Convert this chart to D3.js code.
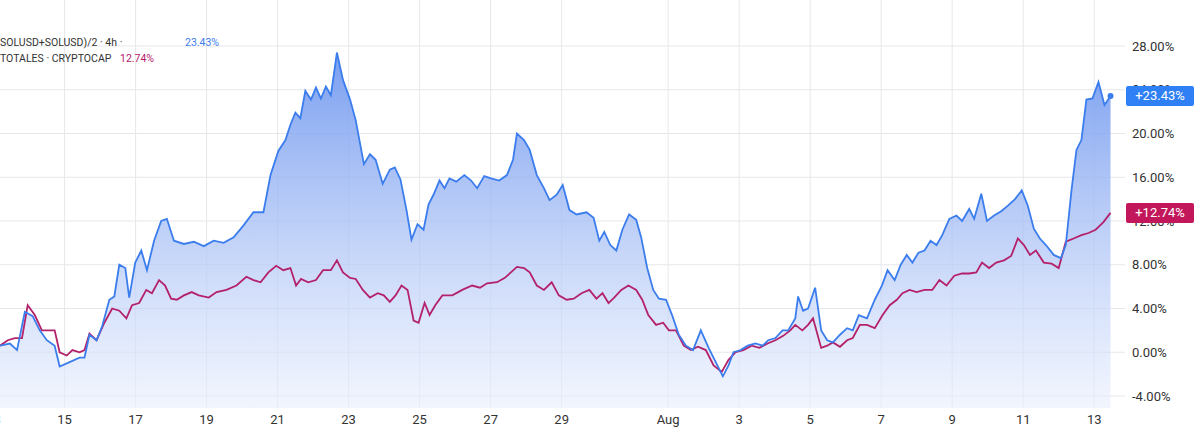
<!DOCTYPE html>
<html><head><meta charset="utf-8">
<script src="https://cdn.jsdelivr.net/npm/d3@7"></script>
<style>body{margin:0;background:#fff;font-family:Roboto,"Noto Sans",sans-serif}</style>
</head><body><svg id="c" width="1200" height="434"></svg>
<script>
// [July day (fractional, >31 = August), percent]
const solSeries = [[13.18,0.6],[13.46,0.8],[13.66,0.2],[13.88,3.7],[14.10,3.3],[14.30,2.0],[14.50,1.1],[14.72,0.6],[14.86,-1.3],[15.14,-0.9],[15.42,-0.5],[15.56,-0.5],[15.70,1.6],[15.90,1.1],[16.06,2.4],[16.26,4.8],[16.40,5.1],[16.54,8.0],[16.71,7.7],[16.82,5.0],[16.99,8.2],[17.16,9.3],[17.32,7.5],[17.52,10.2],[17.72,12.0],[17.88,12.2],[18.08,10.2],[18.36,9.9],[18.64,10.1],[18.92,9.7],[19.20,10.2],[19.48,10.0],[19.76,10.5],[20.04,11.6],[20.32,12.8],[20.60,12.8],[20.80,16.2],[21.02,18.4],[21.22,19.4],[21.36,20.8],[21.50,21.9],[21.64,21.4],[21.78,23.9],[21.94,23.1],[22.08,24.2],[22.22,23.2],[22.36,24.3],[22.50,23.5],[22.67,27.4],[22.84,24.9],[23.04,23.1],[23.20,21.2],[23.43,17.2],[23.60,18.1],[23.76,17.6],[23.96,15.4],[24.16,16.7],[24.30,16.9],[24.46,15.8],[24.63,13.0],[24.77,10.3],[24.94,11.7],[25.11,11.2],[25.25,13.5],[25.39,14.4],[25.56,15.7],[25.70,15.0],[25.84,15.9],[26.03,15.6],[26.26,16.2],[26.45,15.7],[26.62,15.0],[26.82,16.1],[27.01,15.9],[27.24,15.7],[27.46,16.2],[27.63,17.6],[27.74,20.0],[27.94,19.4],[28.10,18.5],[28.30,16.2],[28.50,15.0],[28.66,13.9],[28.86,14.4],[29.03,15.3],[29.22,13.0],[29.42,12.6],[29.70,12.8],[29.90,12.3],[30.06,10.2],[30.20,11.0],[30.37,9.8],[30.54,9.3],[30.71,11.2],[30.90,12.6],[31.10,12.1],[31.24,10.5],[31.41,7.7],[31.58,5.7],[31.74,4.9],[31.94,4.8],[32.11,3.4],[32.30,1.6],[32.50,0.6],[32.70,0.2],[32.92,2.0],[33.14,0.4],[33.34,-0.9],[33.54,-2.2],[33.70,-1.2],[33.84,0],[34.04,0.2],[34.24,0.6],[34.46,0.8],[34.66,0.6],[34.82,1.1],[35.02,1.3],[35.22,2.0],[35.38,2.0],[35.58,3.1],[35.66,5.1],[35.80,3.8],[35.94,4.0],[36.14,5.9],[36.31,2.0],[36.48,1.1],[36.64,0.9],[36.84,1.6],[37.04,2.2],[37.20,2.0],[37.37,3.4],[37.60,3.1],[37.82,4.8],[38.02,6.1],[38.18,7.5],[38.38,6.6],[38.55,8.0],[38.72,8.9],[38.88,8.2],[39.05,9.1],[39.22,9.3],[39.39,10.2],[39.56,9.8],[39.72,10.7],[39.92,12.2],[40.12,12.5],[40.28,12.0],[40.48,13.1],[40.62,12.2],[40.82,14.5],[40.98,12.0],[41.18,12.5],[41.38,12.9],[41.57,13.4],[41.77,14.0],[41.96,14.8],[42.13,13.4],[42.30,11.3],[42.47,10.4],[42.64,9.8],[42.86,8.9],[43.06,8.6],[43.20,9.8],[43.36,14.8],[43.50,18.5],[43.64,19.4],[43.78,23.1],[43.95,23.2],[44.12,24.7],[44.29,22.6],[44.46,23.43]];
const totalSeries = [[13.18,0.6],[13.40,1.1],[13.60,1.3],[13.80,1.3],[13.96,4.3],[14.16,3.4],[14.36,2.0],[14.52,2.0],[14.72,2.0],[14.86,0],[15.06,-0.3],[15.22,0.2],[15.42,0],[15.56,0.2],[15.70,1.7],[15.90,1.1],[16.12,2.7],[16.34,4.0],[16.54,3.8],[16.74,3.1],[16.90,4.3],[17.10,4.5],[17.30,5.7],[17.46,5.4],[17.66,6.6],[17.83,6.1],[18.00,4.9],[18.16,4.8],[18.36,5.2],[18.58,5.5],[18.78,5.2],[19.06,5.0],[19.28,5.5],[19.56,5.7],[19.84,6.1],[20.12,6.9],[20.32,6.6],[20.52,6.4],[20.74,7.3],[20.96,7.9],[21.16,7.5],[21.36,7.7],[21.52,6.1],[21.66,6.7],[21.86,6.4],[22.08,6.6],[22.28,7.5],[22.50,7.5],[22.67,8.4],[22.84,7.3],[23.04,6.8],[23.20,6.7],[23.40,5.7],[23.60,5.0],[23.82,5.4],[23.99,5.2],[24.16,4.6],[24.32,5.2],[24.49,6.1],[24.66,5.7],[24.83,2.9],[24.97,2.7],[25.14,4.5],[25.28,3.4],[25.44,4.3],[25.64,5.2],[25.92,5.2],[26.20,5.7],[26.48,6.1],[26.70,5.9],[26.90,6.3],[27.18,6.4],[27.40,6.8],[27.57,7.3],[27.74,7.8],[27.94,7.7],[28.10,7.3],[28.30,6.1],[28.50,5.7],[28.72,6.4],[28.92,5.2],[29.14,4.8],[29.34,4.9],[29.56,5.4],[29.78,5.7],[29.98,4.9],[30.15,5.4],[30.32,4.5],[30.48,5.0],[30.68,5.7],[30.88,6.1],[31.10,5.7],[31.27,4.8],[31.44,3.4],[31.66,2.5],[31.86,2.7],[32.02,2.0],[32.22,2.0],[32.44,0.6],[32.64,0.2],[32.84,0.5],[33.06,0.2],[33.28,-1.2],[33.51,-1.8],[33.70,-0.7],[33.90,0],[34.12,0.2],[34.35,0.6],[34.57,0.4],[34.80,0.8],[35.02,1.1],[35.24,1.5],[35.44,2.0],[35.58,2.5],[35.78,2.0],[35.94,2.5],[36.08,3.1],[36.31,0.4],[36.48,0.6],[36.64,0.9],[36.84,0.5],[37.04,1.1],[37.20,1.3],[37.40,2.5],[37.60,2.5],[37.82,2.2],[38.04,3.4],[38.24,4.3],[38.44,4.8],[38.60,5.4],[38.80,5.7],[39.00,5.5],[39.22,5.7],[39.44,5.7],[39.64,6.6],[39.84,6.1],[40.06,7.0],[40.28,7.2],[40.48,7.2],[40.68,7.3],[40.84,8.2],[41.04,7.7],[41.24,8.2],[41.46,8.4],[41.66,8.8],[41.85,10.4],[42.02,9.8],[42.19,8.9],[42.36,9.3],[42.58,8.2],[42.80,8.1],[43.00,7.7],[43.20,10.1],[43.42,10.4],[43.64,10.7],[43.84,10.9],[44.04,11.2],[44.26,11.9],[44.46,12.74]];
const yTicks = [-4,0,4,8,12,16,20,24,28];
const xTickDays = [13,15,17,19,21,23,25,27,29,32,34,36,38,40,42,44];
const xTickLabels = ["13","15","17","19","21","23","25","27","29","Aug","3","5","7","9","11","13"];
const legend1 = "SOLUSD+SOLUSD)/2 · 4h ·", legend1Val = "23.43%";
const legend2 = "TOTALES · CRYPTOCAP", legend2Val = "12.74%";

const toDate = d => new Date(Date.UTC(2024,6,1) + (d-1)*864e5);
const svg = d3.select("#c");
const x = d3.scaleUtc().domain([toDate(13), toDate(45)]).range([-6.4, 1129.7]);
const y = d3.scaleLinear().domain([-4, 28]).range([396, 46]);
const plotR = 1125, plotB = 408;
const blue = "#3b7ded", red = "#b4216b";

const defs = svg.append("defs");
const g = defs.append("linearGradient").attr("id","fill").attr("x1",0).attr("x2",0).attr("y1",0).attr("y2",1);
g.append("stop").attr("offset","0%").attr("stop-color","#6a93ee").attr("stop-opacity",0.9);
g.append("stop").attr("offset","100%").attr("stop-color","#e9effd").attr("stop-opacity",0.6);
defs.append("clipPath").attr("id","clip").append("rect").attr("x",0).attr("y",0).attr("width",plotR).attr("height",plotB);

svg.append("g").selectAll("line").data(yTicks).join("line")
  .attr("x1",0).attr("x2",plotR).attr("y1",d=>y(d)).attr("y2",d=>y(d)).attr("stroke","#e6e7eb");
svg.append("g").selectAll("line").data(xTickDays).join("line")
  .attr("x1",d=>x(toDate(d))).attr("x2",d=>x(toDate(d))).attr("y1",0).attr("y2",plotB).attr("stroke","#e6e7eb");

const pg = svg.append("g").attr("clip-path","url(#clip)");
pg.append("path").datum(solSeries).attr("fill","url(#fill)")
  .attr("d", d3.area().x(d=>x(toDate(d[0]))).y0(plotB).y1(d=>y(d[1])));
pg.append("path").datum(totalSeries).attr("fill","none").attr("stroke",red).attr("stroke-width",1.8)
  .attr("d", d3.line().x(d=>x(toDate(d[0]))).y(d=>y(d[1])));
pg.append("path").datum(solSeries).attr("fill","none").attr("stroke",blue).attr("stroke-width",1.8)
  .attr("d", d3.line().x(d=>x(toDate(d[0]))).y(d=>y(d[1])));
const last = solSeries[solSeries.length-1];
svg.append("circle").attr("cx",x(toDate(last[0]))).attr("cy",y(last[1])).attr("r",3).attr("fill",blue);

svg.append("g").selectAll("text").data(yTicks).join("text")
  .attr("x",1132).attr("y",d=>y(d)+4.5).attr("font-size",13).attr("fill","#333")
  .text(d=>d.toFixed(2)+"%");
svg.append("g").selectAll("text").data(xTickDays).join("text")
  .attr("x",d=>x(toDate(d))).attr("y",424).attr("text-anchor","middle").attr("font-size",13).attr("fill","#333")
  .text((d,i)=>xTickLabels[i]);

[[solSeries, "#2f7ff5"],[totalSeries, "#c2185b"]].forEach(([s,bg])=>{
  const v = s[s.length-1][1];
  const yy = y(v);
  svg.append("rect").attr("x",1126).attr("y",yy-10).attr("width",68).attr("height",20).attr("rx",2).attr("fill",bg);
  svg.append("text").attr("x",1160).attr("y",yy+4.5).attr("text-anchor","middle").attr("font-size",13).attr("fill","#fff")
    .text("+"+v.toFixed(2)+"%");
});

svg.append("text").attr("x",0).attr("y",46).attr("font-size",10.5).attr("fill","#333").text(legend1);
svg.append("text").attr("x",185).attr("y",46).attr("font-size",10.5).attr("fill",blue).text(legend1Val);
svg.append("text").attr("x",0).attr("y",62).attr("font-size",10.5).attr("fill","#333").text(legend2);
svg.append("text").attr("x",120).attr("y",62).attr("font-size",10.5).attr("fill",red).text(legend2Val);
</script></body></html>
